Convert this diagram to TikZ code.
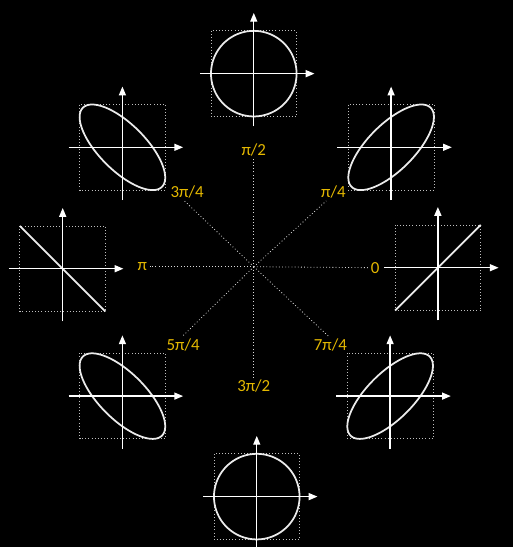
\documentclass[tikz,border=0pt]{standalone}
\usepackage{fontspec}
\setmainfont{Carlito}
\usetikzlibrary{arrows.meta}

\definecolor{phasegold}{RGB}{228,184,0}

\begin{document}
\begin{tikzpicture}[x=0.03cm, y=-0.03cm,
phase/.style={font=\fontsize{14.5}{16}\selectfont, text=phasegold, inner sep=2pt},
guideline/.style={dotted, draw=white!85!black, line width=0.7pt},
arrowaxis/.style={-{Triangle[length=7.5pt,width=6pt]}, draw=white, line width=1.1pt},
lissajous/.style={draw=white!92!black, line width=1.5pt},
panelbox/.style={dotted, draw=white!75!black, line width=0.7pt},
panel/.pic={
  \draw[panelbox] (-43,-43) rectangle (43,43);
  \draw[lissajous] plot[domain=0:360, samples=120, smooth, variable=\x] ({43*sin(\x)},{-43*sin(\x+#1)});
  \draw[arrowaxis] (-54,0) -- (61,0);
  \draw[arrowaxis] (0,53) -- (0,-61);
} ]

\fill[black] (0,0) rectangle (515,550);

\coordinate (o) at (255,268);

\node[phase](p0) at (377,269) {0};

\node[phase](p1) at (335,193) {π/4};

\node[phase](p2) at (255,151) {π/2};

\node[phase](p3) at (188,193) {3π/4};

\node[phase](p4) at (143,268) {π};

\node[phase](p5) at (184,347) {5π/4};

\node[phase](p6) at (255,388) {3π/2};

\node[phase](p7) at (332,347) {7π/4};

\draw[guideline] (o) -- (p0);

\draw[guideline] (o) -- (p1.-129);

\draw[guideline] (o) -- (p2);

\draw[guideline] (o) -- (p3.-107);

\draw[guideline] (o) -- (p4);

\draw[guideline] (o) -- (p5.96);

\draw[guideline] (o) -- (p6);

\draw[guideline] (o) -- (p7.100);

\pic at (440,269) {panel=0};

\pic at (393,148) {panel=45};

\pic at (255,74) {panel=90};

\pic at (123,148) {panel=135};

\pic at (63,270) {panel=180};

\pic at (123,398) {panel=225};

\pic at (258,499) {panel=270};

\pic at (392,398) {panel=315};
\end{tikzpicture}
\end{document}
